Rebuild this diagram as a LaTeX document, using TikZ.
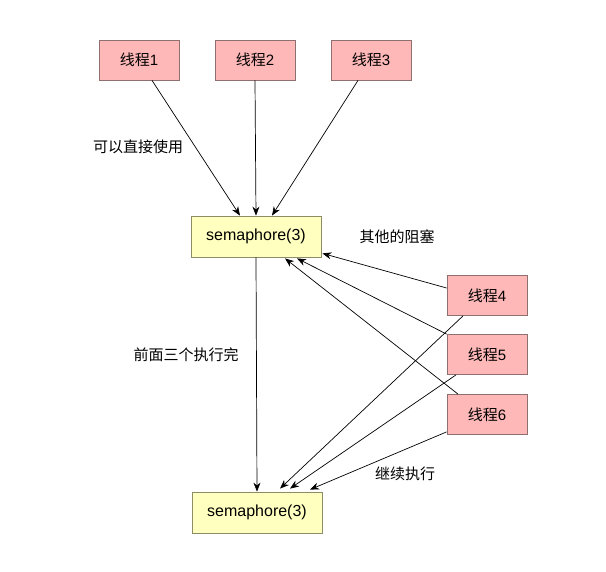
\documentclass[tikz,border=0pt]{standalone}
\usepackage{fontspec}
\setmainfont{Liberation Sans}
\newfontfamily\cjk{Noto Sans CJK SC}
\usetikzlibrary{arrows.meta}
\definecolor{pinkfill}{HTML}{FFB8B8}
\definecolor{pinkline}{HTML}{8E7070}
\definecolor{yelfill}{HTML}{FFFFC0}
\definecolor{yelline}{HTML}{8C8C66}
\tikzset{
  thread/.style={draw=pinkline, fill=pinkfill, line width=0.8pt, minimum width=80pt, minimum height=40pt, inner sep=0pt, font=\fontsize{15}{18}\selectfont},
  sema/.style={draw=yelline, fill=yelfill, line width=0.8pt, minimum width=130pt, minimum height=41pt, inner sep=0pt, font=\fontsize{16}{19}\selectfont},
  lbl/.style={font=\fontsize{15}{18}\selectfont\cjk, inner sep=0pt},
  conn/.style={draw=black, line width=0.7pt, -{Stealth[length=9pt,width=7pt]}}
}
\begin{document}
\begin{tikzpicture}[x=1pt,y=-1pt]
\path[use as bounding box, fill=white] (0,0) rectangle (606,572);
\node[thread] (t1) at (139,60) {{\cjk 线程}1};
\node[thread] (t2) at (255,60) {{\cjk 线程}2};
\node[thread] (t3) at (371,60) {{\cjk 线程}3};
\node[sema] (s1) at (256,236.5) {semaphore(3)};
\node[sema] (s2) at (257,512.5) {semaphore(3)};
\node[thread] (t4) at (487,295.5) {{\cjk 线程}4};
\node[thread] (t5) at (487,354.5) {{\cjk 线程}5};
\node[thread] (t6) at (487,414.5) {{\cjk 线程}6};

\node[lbl] (l1) at (138,147) {可以直接使用};
\node[lbl] (l2) at (397,237) {其他的阻塞};
\node[lbl] (l3) at (186,355) {前面三个执行完};
\node[lbl] (l4) at (405,474) {继续执行};

\draw[conn] ([xshift=13pt]t1.south) -- ([xshift=-16pt]s1.north);
\draw[conn] (t2.south) -- (s1.north);
\draw[conn] ([xshift=-13pt]t3.south) -- ([xshift=16pt]s1.north);

\draw[conn] ([yshift=7.5pt]t4.west) -- ([shift={(1pt,4pt)}]s1.south east);
\draw[conn] (t5.north west) -- ([shift={(41pt,-1pt)}]s1.south);
\draw[conn] ([xshift=-29pt]t6.north) -- ([shift={(29pt,-1pt)}]s1.south);

\draw[conn] (s1.south) -- (s2.north);

\draw[conn] ([xshift=-24pt]t4.south) -- ([shift={(23pt,3pt)}]s2.north);
\draw[conn] ([xshift=-31pt]t5.south) -- ([shift={(33pt,3pt)}]s2.north);
\draw[conn] ([yshift=3pt]t6.south west) -- ([shift={(53pt,2pt)}]s2.north);
\end{tikzpicture}
\end{document}
